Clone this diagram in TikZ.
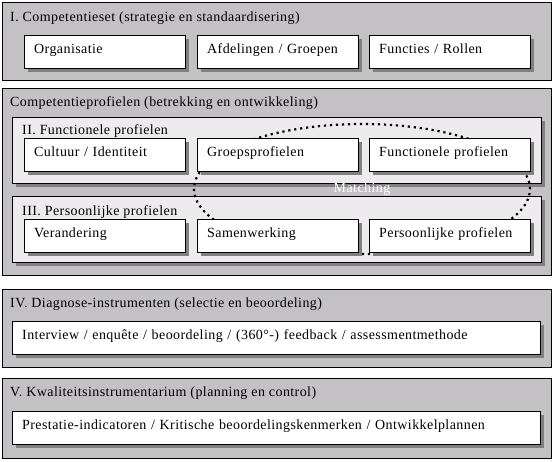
\documentclass[tikz,border=0pt]{standalone}
\usepackage{fontspec}
\setmainfont[LetterSpace=3]{Liberation Serif}
\usepackage{xcolor}
\usetikzlibrary{positioning, shadows, shapes.geometric}

\definecolor{framegray}{HTML}{C4C1C4}
\definecolor{panelgray}{HTML}{EEEBEE}
\definecolor{shadegray}{HTML}{808080}

\begin{document}
\begin{tikzpicture}[
    x=1pt, y=-1pt,
    every node/.style={font=\fontsize{14}{16}\selectfont},
    frame/.style={rectangle, draw=black, fill=framegray, anchor=north west, minimum width=549pt, inner sep=0pt},
    panel/.style={rectangle, draw=black, fill=panelgray, anchor=north west, minimum width=529pt, minimum height=66pt, inner sep=0pt, drop shadow={shadow xshift=4pt, shadow yshift=-4pt, fill=shadegray, opacity=1}},
    card/.style={rectangle, draw=black, fill=white, anchor=north west, minimum height=33pt, inner xsep=10pt, text width=141pt, text height=9pt, text depth=6pt, align=left, drop shadow={shadow xshift=4pt, shadow yshift=-4pt, fill=shadegray, opacity=1}},
    wide/.style={card, text width=508pt},
    title/.style={anchor=base west, inner sep=0pt},
    matchring/.style={ellipse, draw=black, line width=2.2pt, dash pattern=on 2.2pt off 3.8pt, minimum width=336pt, minimum height=130pt, inner sep=0pt, text=white}
]
    \useasboundingbox (0,0) rectangle (553,461);

    % Frames
    \node[frame, minimum height=78pt] (F1) at (2,2) {};
    \node[frame, minimum height=187pt] (F2) at (2,88) {};
    \node[frame, minimum height=78pt] (F4) at (2,289) {};
    \node[frame, minimum height=80pt] (F5) at (2,378) {};

    % Profile panels
    \node[panel] (P2) at (12,117) {};
    \node[panel] (P3) at (12,196) {};

    % Matching
    \node[matchring] (MATCH) at (362,189) {Matching};

    % Titles
    \node[title] (T1) at (10,21) {I. Competentieset (strategie en standaardisering)};
    \node[title] (T2) at (10,106) {Competentieprofielen (betrekking en ontwikkeling)};
    \node[title] (T2a) at (22,134) {II. Functionele profielen};
    \node[title] (T3) at (22,215) {III. Persoonlijke profielen};
    \node[title] (T4) at (10,307) {IV. Diagnose-instrumenten (selectie en beoordeling)};
    \node[title] (T5) at (10,396) {V. Kwaliteitsinstrumentarium (planning en control)};

    % Cards
    \node[card] (ORG) at (24,35) {Organisatie};
    \node[card] (AFD) at (197,35) {Afdelingen / Groepen};
    \node[card] (FUN) at (369,35) {Functies / Rollen};

    \node[card] (CULT) at (24,138) {Cultuur / Identiteit};
    \node[card] (GROEP) at (197,138) {Groepsprofielen};
    \node[card] (FPROF) at (369,138) {Functionele profielen};

    \node[card] (VER) at (24,219) {Verandering};
    \node[card] (SAM) at (197,219) {Samenwerking};
    \node[card] (PPROF) at (369,219) {Persoonlijke profielen};

    \node[wide] (DIAG) at (12,321) {Interview / enquête / beoordeling / (360°-) feedback / assessmentmethode};
    \node[wide] (KWAL) at (12,411) {Prestatie-indicatoren / Kritische beoordelingskenmerken / Ontwikkelplannen};
\end{tikzpicture}
\end{document}
